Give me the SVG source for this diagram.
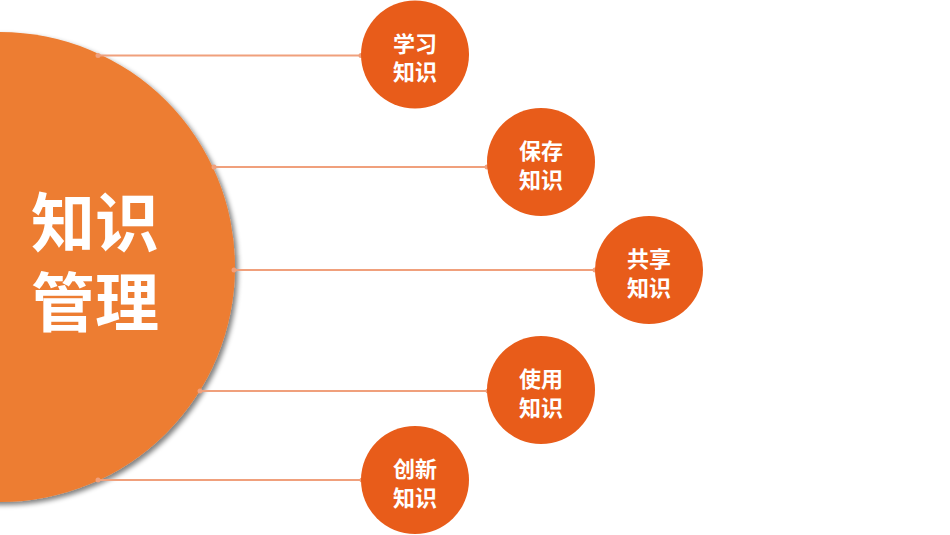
<svg xmlns="http://www.w3.org/2000/svg" width="950" height="535" viewBox="0 0 950 535">
<defs>
<filter id="sh" x="-20%" y="-20%" width="140%" height="140%">
<feGaussianBlur in="SourceAlpha" stdDeviation="2.5"/>
<feOffset dx="3" dy="3" result="b"/>
<feComponentTransfer><feFuncA type="linear" slope="0.5"/></feComponentTransfer>
<feMerge><feMergeNode/><feMergeNode in="SourceGraphic"/></feMerge>
</filter>
<style>
.node{fill:#E85C1A}
.lbl{font-family:"Noto Sans CJK SC","Noto Sans",sans-serif;font-weight:bold;font-size:22px;fill:#FFFFFF;text-anchor:middle}
.big{font-family:"Noto Sans CJK SC","Noto Sans",sans-serif;font-weight:bold;font-size:64px;fill:#FFFFFF}
.ln{stroke:#F0A07C;stroke-width:2;fill:none}
.dot{fill:#F0A07C}
</style>
</defs>
<rect width="950" height="535" fill="#FFFFFF"/>
<g id="center">
<circle cx="0" cy="267" r="235" fill="#ED7D31" filter="url(#sh)"/>
<text class="big" x="31" y="246">知识</text>
<text class="big" x="31" y="326">管理</text>
</g>
<g id="connectors">
<line class="ln" x1="98" y1="55.5" x2="361" y2="55.5"/>
<circle class="dot" cx="98" cy="55.5" r="2.5"/><circle class="dot" cx="361" cy="55.5" r="2.5"/>
<line class="ln" x1="214" y1="167" x2="487" y2="167"/>
<circle class="dot" cx="214" cy="167" r="2.5"/><circle class="dot" cx="487" cy="167" r="2.5"/>
<line class="ln" x1="234" y1="270" x2="595" y2="270"/>
<circle class="dot" cx="234" cy="270" r="2.5"/><circle class="dot" cx="595" cy="270" r="2.5"/>
<line class="ln" x1="200" y1="391" x2="488" y2="391"/>
<circle class="dot" cx="200" cy="391" r="2.5"/><circle class="dot" cx="488" cy="391" r="2.5"/>
<line class="ln" x1="98" y1="480" x2="362" y2="480"/>
<circle class="dot" cx="98" cy="480" r="2.5"/><circle class="dot" cx="362" cy="480" r="2.5"/>
</g>
<g id="n1">
<circle class="node" cx="415" cy="54.5" r="54"/>
<text class="lbl" x="415" y="51.5">学习</text>
<text class="lbl" x="415" y="80">知识</text>
</g>
<g id="n2">
<circle class="node" cx="541" cy="162" r="54"/>
<text class="lbl" x="541" y="159">保存</text>
<text class="lbl" x="541" y="187.5">知识</text>
</g>
<g id="n3">
<circle class="node" cx="649" cy="270" r="54"/>
<text class="lbl" x="649" y="267">共享</text>
<text class="lbl" x="649" y="295.5">知识</text>
</g>
<g id="n4">
<circle class="node" cx="541" cy="390" r="54"/>
<text class="lbl" x="541" y="387">使用</text>
<text class="lbl" x="541" y="415.5">知识</text>
</g>
<g id="n5">
<circle class="node" cx="415" cy="480" r="54"/>
<text class="lbl" x="415" y="477">创新</text>
<text class="lbl" x="415" y="505.5">知识</text>
</g>
</svg>
